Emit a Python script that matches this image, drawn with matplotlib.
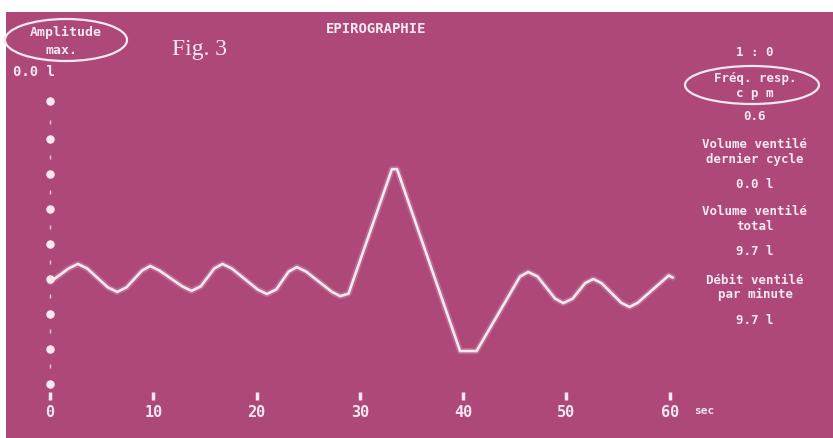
import matplotlib.pyplot as plt
from matplotlib.patches import Ellipse, Rectangle

# trace (time in s, volume in scale units)
t = [0.0, 1.8, 2.7, 3.6, 5.6, 6.5, 7.4, 8.9, 9.7, 10.6, 12.8, 13.7, 14.6,
     15.9, 16.7, 17.6, 20.1, 21.0, 21.9, 23.1, 23.9, 24.8, 27.3, 28.1, 28.9,
     33.1, 33.6, 39.7, 41.3, 45.5, 46.3, 47.2, 48.9, 49.7, 50.6, 51.8, 52.6,
     53.4, 55.3, 56.1, 56.9, 59.9, 60.3]
vol = [2.91, 3.30, 3.43, 3.30, 2.76, 2.63, 2.76, 3.24, 3.37, 3.24, 2.79, 2.66, 2.79,
       3.30, 3.43, 3.30, 2.70, 2.57, 2.70, 3.21, 3.34, 3.21, 2.63, 2.51, 2.58,
       6.14, 6.14, 0.94, 0.94, 3.07, 3.20, 3.07, 2.44, 2.31, 2.44, 2.88, 3.00,
       2.88, 2.32, 2.20, 2.32, 3.10, 3.04]

xticks = [0, 10, 20, 30, 40, 50, 60]
xlabels = ['0', '10', '20', '30', '40', '50', '60']
ydots = [0, 1, 2, 3, 4, 5, 6, 7, 8.1]
ydash = [0.5, 1.5, 2.5, 3.5, 4.5, 5.5, 6.5, 7.5]

panel_lines = [
    ('1 : 0', 52),
    ('Fréq. resp.', 79),
    ('c p m', 93),
    ('0.6', 117),
    ('Volume ventilé', 145),
    ('dernier cycle', 159),
    ('0.0 l', 185),
    ('Volume ventilé', 212),
    ('total', 226),
    ('9.7 l', 252),
    ('Débit ventilé', 280),
    ('par minute', 294),
    ('9.7 l', 320),
]

bg = '#ad4879'
fg = '#f6e8f0'
W, H = 833, 439

fig = plt.figure(figsize=(W / 100, H / 100), dpi=100, facecolor='white')
fig.patches.append(Rectangle((6 / W, 0), 1, (H - 13) / H, transform=fig.transFigure,
                             facecolor=bg, edgecolor='none', zorder=-5))

def px(x, y):
    return x / W, 1 - y / H

ax = fig.add_axes([40 / W, (H - 401) / H, 650 / W, 341 / H])
ax.set_zorder(2)
ax.set_facecolor('none')
ax.set_xlim(-0.97, 61.96)
ax.set_ylim(-0.46, 9.29)
for s in ax.spines.values():
    s.set_visible(False)

ax.plot(t, vol, color=fg, lw=4.5, alpha=0.2, solid_capstyle='round', solid_joinstyle='round')
ax.plot(t, vol, color=fg, lw=1.9, solid_capstyle='round', solid_joinstyle='round')

ax.scatter([0] * len(ydots), ydots, s=26, marker='o', color=fg, zorder=3, clip_on=False)
ax.scatter([0] * len(ydash), ydash, s=12, marker='|', color=fg, lw=1, alpha=0.8,
           zorder=3, clip_on=False)

ax.set_xticks(xticks)
ax.set_xticklabels(xlabels, family='DejaVu Sans Mono', fontweight='bold', fontsize=11)
ax.tick_params(axis='x', colors=fg, direction='in', length=6, width=2.5, pad=3)
ax.set_yticks([])

mono = dict(family='DejaVu Sans Mono', fontweight='bold', color=fg, ha='center', va='center')

fig.text(*px(704, 411), 'sec', fontsize=8, **mono)

fig.text(*px(66, 32), 'Amplitude', fontsize=9.5, **mono)
fig.text(*px(62, 51), 'max.', fontsize=9.5, **mono)
fig.text(*px(34, 72), '0.0 l', fontsize=10, **mono)
fig.patches.append(Ellipse(px(66, 41), 122 / W, 42 / H, transform=fig.transFigure,
                           fill=False, edgecolor=fg, lw=1.6))

fig.text(*px(200, 50), 'Fig. 3', family='Liberation Serif', fontsize=17, color=fg,
         ha='center', va='center')
fig.text(*px(376, 29), 'EPIROGRAPHIE', fontsize=10, **mono)

for txt, y in panel_lines:
    fig.text(*px(755, y), txt, fontsize=9, **mono)
fig.patches.append(Ellipse(px(752, 86), 134 / W, 38 / H, transform=fig.transFigure,
                           fill=False, edgecolor=fg, lw=1.6))

fig.savefig('out.png', dpi=100, facecolor='white')
